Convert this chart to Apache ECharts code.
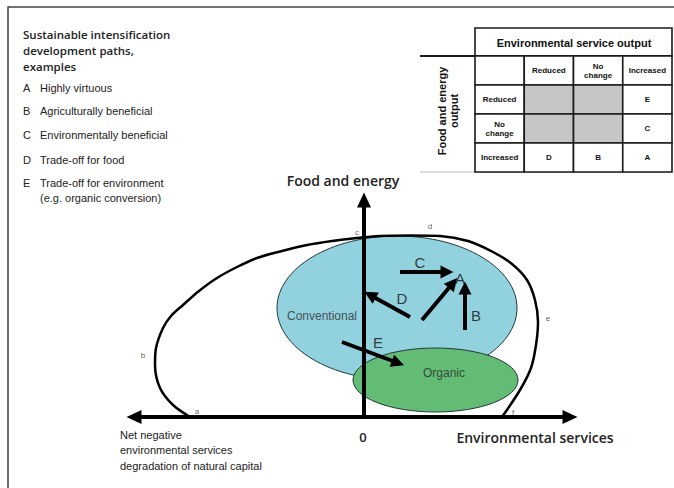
<!DOCTYPE html>
<html><head><meta charset="utf-8">
<script src="https://cdn.jsdelivr.net/npm/echarts@6/dist/echarts.min.js"></script>
<style>html,body{margin:0;padding:0;background:#fff}#chart{width:674px;height:488px}</style>
</head><body><div id="chart"></div>
<script>
// ---- Data (conceptual coordinates: origin at axes crossing) ----
const frontierPoints = [
  [-174,0],[-191,12],[-204,29],[-209,52],[-208,69],[-201,89],[-193,101],[-181,112],
  [-165,126],[-147,139],[-127,150],[-107,159],[-82,166],[-57,172],[-32,176],[-7,179],
  [16,181],[46,181.5],[76,181],[104,176],[129,165],[148,153],[163,137],[171,117],
  [174,95],[172,72],[167,49],[156,27],[138,0]
];
const frontierLetters = ['a','b','c','d','e','f'];
const frontierLetterPos = [[-167,6],[-221,62],[-7,185],[66,191],[184,99],[149,5]];

const ellipseNames = ['Conventional','Organic'];
const ellipseCenters = [[33,109],[71.5,37]];
const ellipseRadii = [[120,72],[82.5,32]];
const ellipseLabelPos = [[-42,101],[80,44]];
const ellipseFills = ['#92d1de','#62bc74'];

const pathNames = ['A','B','C','D','E'];
const pathStarts = [[58,97],[101,87],[36,145],[46,100],[-22,75]];
const pathEnds   = [[89,134],[101,129],[83,145],[6,122],[34,54]];
const pathLabelPos = [[96,139],[112,102],[56,155],[38,119],[14,75]];

const legendKeys = ['A','B','C','D','E'];
const legendLabels = ['Highly virtuous','Agriculturally beneficial','Environmentally beneficial','Trade-off for food','Trade-off for environment'];

const tableCols = ['', 'Reduced', 'No\nchange', 'Increased'];
const tableRows = ['', 'Reduced', 'No\nchange', 'Increased'];
const cellMarks = [['','','E'],['','','C'],['D','B','A']];
const shadedCells = [[1,1],[2,1],[1,2],[2,2]];

// ---- Build ----
const tableData = [], tableTexts = [], tableShade = [];
for (let r = 0; r < 4; r++) for (let c = 0; c < 4; c++) {
  tableData.push([c, r]);
  tableTexts.push(r === 0 ? tableCols[c] : (c === 0 ? tableRows[r] : cellMarks[r-1][c-1]));
  tableShade.push(shadedCells.some(s => s[0] === c && s[1] === r));
}

const chart = echarts.init(document.getElementById('chart'), null, {renderer:'svg', width:674, height:488});
const hidden = {axisTick:{show:false}, axisLabel:{show:false}, splitLine:{show:false}};
const legendGraphics = [];
legendKeys.forEach((k, i) => {
  const y = [89,112,136,161,184][i];
  legendGraphics.push({type:'text', left:23, top:y-7, style:{text:k, font:'11px "Liberation Sans"', fill:'#222'}});
  legendGraphics.push({type:'text', left:40, top:y-7, style:{text:legendLabels[i], font:'11px "Liberation Sans"', fill:'#222'}});
});

const option = {
  backgroundColor:'#fff',
  animation:false,
  grid:[{left:134, top:200, width:436, height:217}, {left:475, top:56, width:197, height:116}],
  xAxis:[
    Object.assign({type:'value', gridIndex:0, min:-230, max:206, z:10,
      axisLine:{show:true, onZero:true, symbol:['triangle','triangle'], symbolSize:[14,15], lineStyle:{color:'#000', width:4}}}, hidden),
    {type:'category', gridIndex:1, data:tableCols, show:false}
  ],
  yAxis:[
    Object.assign({type:'value', gridIndex:0, min:0, max:217, z:10,
      axisLine:{show:true, onZero:true, symbol:['none','triangle'], symbolSize:[14,15], lineStyle:{color:'#000', width:4}}}, hidden),
    {type:'category', gridIndex:1, data:tableRows, inverse:true, show:false}
  ],
  graphic:[
    {type:'polyline', shape:{points:[[8,488],[8,7],[674,7]]}, style:{stroke:'#444', lineWidth:1.5, fill:null}},
    {type:'rect', shape:{x:475, y:28, width:197, height:28}, style:{fill:'#fff', stroke:'#1a1a1a', lineWidth:1.6}},
    {type:'text', x:574, y:43, style:{text:'Environmental service output', font:'bold 11px "Liberation Sans"', fill:'#111', align:'center', verticalAlign:'middle'}},
    {type:'line', shape:{x1:420, y1:56, x2:672, y2:56}, style:{stroke:'#1a1a1a', lineWidth:2}},
    {type:'line', shape:{x1:420, y1:172, x2:672, y2:172}, style:{stroke:'#bbb', lineWidth:1}},
    {type:'text', x:448, y:111, rotation:Math.PI/2, style:{text:'Food and energy\noutput', font:'bold 11px "Liberation Sans"', fill:'#111', align:'center', verticalAlign:'middle', lineHeight:12}},
    {type:'text', left:23, top:26, style:{text:'Sustainable intensification\ndevelopment paths,\nexamples', font:'600 11.5px "Open Sans"', fill:'#222', lineHeight:16}},
    ...legendGraphics,
    {type:'text', left:40, top:192, style:{text:'(e.g. organic conversion)', font:'11px "Liberation Sans"', fill:'#222'}},
    {type:'text', x:343, y:180, style:{text:'Food and energy', font:'600 14px "Open Sans"', fill:'#222', align:'center', verticalAlign:'middle'}},
    {type:'text', x:363, y:437, style:{text:'0', font:'600 13px "Open Sans"', fill:'#222', align:'center', verticalAlign:'middle'}},
    {type:'text', x:535, y:437, style:{text:'Environmental services', font:'600 14px "Open Sans"', fill:'#222', align:'center', verticalAlign:'middle'}},
    {type:'text', left:120, top:427, style:{text:'Net negative\nenvironmental services\ndegradation of natural capital', font:'11px "Liberation Sans"', fill:'#222', lineHeight:15.5}}
  ],
  series:[
    {type:'custom', xAxisIndex:0, yAxisIndex:0, z:1, clip:false,
      data: ellipseNames.map((n,i) => ({name:n, value:[ellipseCenters[i][0], ellipseCenters[i][1], ellipseRadii[i][0], ellipseRadii[i][1], i]})),
      renderItem:(params, api) => {
        const c = api.coord([api.value(0), api.value(1)]);
        const s = api.size([api.value(2), api.value(3)]);
        return {type:'ellipse', shape:{cx:c[0], cy:c[1], rx:s[0], ry:s[1]},
          style:{fill:ellipseFills[api.value(4)], stroke:'#24393c', lineWidth:1}};
      }},
    {type:'line', xAxisIndex:0, yAxisIndex:0, z:11, data:frontierPoints, smooth:0.3, showSymbol:false, clip:false,
      lineStyle:{color:'#000', width:2.5}},
    {type:'lines', coordinateSystem:'cartesian2d', xAxisIndex:0, yAxisIndex:0, z:12, clip:false,
      symbol:['none','triangle'], symbolSize:13,
      lineStyle:{color:'#000', width:4, opacity:1},
      data: pathNames.map((n,i) => ({name:n, coords:[pathStarts[i], pathEnds[i]]}))},
    {type:'scatter', xAxisIndex:0, yAxisIndex:0, z:13, symbolSize:0, clip:false,
      label:{show:true, position:'inside', formatter:'{b}', color:'#111', fontFamily:'Liberation Sans', fontSize:15},
      data: pathNames.map((n,i) => ({name:n, value:pathLabelPos[i]}))
        .concat(frontierLetters.map((n,i) => ({name:n, value:frontierLetterPos[i], label:{fontSize:8, color:'#333'}})))
        .concat(ellipseNames.map((n,i) => ({name:n, value:ellipseLabelPos[i], label:{fontSize:12, color:'#2a2a2a'}})))},
    {type:'custom', xAxisIndex:1, yAxisIndex:1, z:5,
      data: tableData,
      renderItem:(params, api) => {
        const p = api.coord([api.value(0), api.value(1)]);
        const s = api.size([1,1]);
        const i = params.dataIndex;
        return {type:'group', children:[
          {type:'rect', shape:{x:p[0]-s[0]/2, y:p[1]-s[1]/2, width:s[0], height:s[1]},
            style:{fill: tableShade[i] ? '#c6c6c6' : '#fff', stroke:'#1a1a1a', lineWidth:1.6}},
          {type:'text', style:{text:tableTexts[i], x:p[0], y:p[1], align:'center', verticalAlign:'middle',
            font:'bold 8px "Liberation Sans"', fill:'#111', lineHeight:9}}
        ]};
      }}
  ]
};
chart.setOption(option);
</script>
</body></html>
